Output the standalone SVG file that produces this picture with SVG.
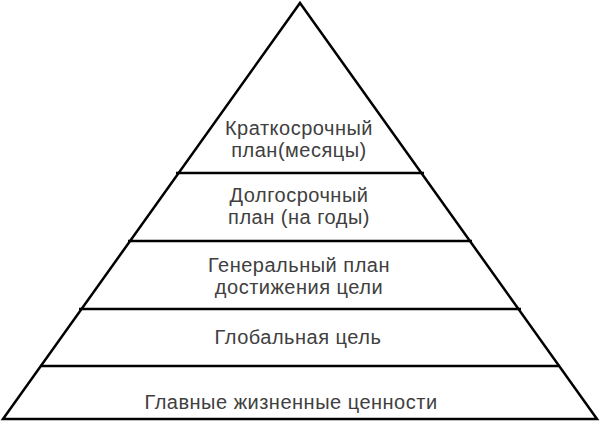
<svg xmlns="http://www.w3.org/2000/svg" width="600" height="429" viewBox="0 0 600 429">
<style>
.ln{stroke:#000;stroke-width:2.5;fill:none;stroke-linejoin:miter}
.t{font-family:"Liberation Sans",Arial,sans-serif;font-size:20px;letter-spacing:0.5px;fill:#404040;text-anchor:middle}
</style>
<rect width="600" height="429" fill="#fff"/>
<g id="connectors">
<polygon class="ln" points="300,3 597,419 3,419"/>
<line class="ln" x1="176" y1="173" x2="424" y2="173"/>
<line class="ln" x1="128" y1="241" x2="472" y2="241"/>
<line class="ln" x1="79" y1="309" x2="521" y2="309"/>
<line class="ln" x1="40" y1="366" x2="560" y2="366"/>
</g>
<g id="level5"><text class="t" x="299" y="135">Краткосрочный</text><text class="t" x="299" y="157">план(месяцы)</text></g>
<g id="level4"><text class="t" x="299" y="202">Долгосрочный</text><text class="t" x="299" y="224">план (на годы)</text></g>
<g id="level3"><text class="t" x="299" y="272">Генеральный план</text><text class="t" x="299" y="294">достижения цели</text></g>
<g id="level2"><text class="t" x="298" y="344">Глобальная цель</text></g>
<g id="level1"><text class="t" x="291" y="409">Главные жизненные ценности</text></g>
</svg>
